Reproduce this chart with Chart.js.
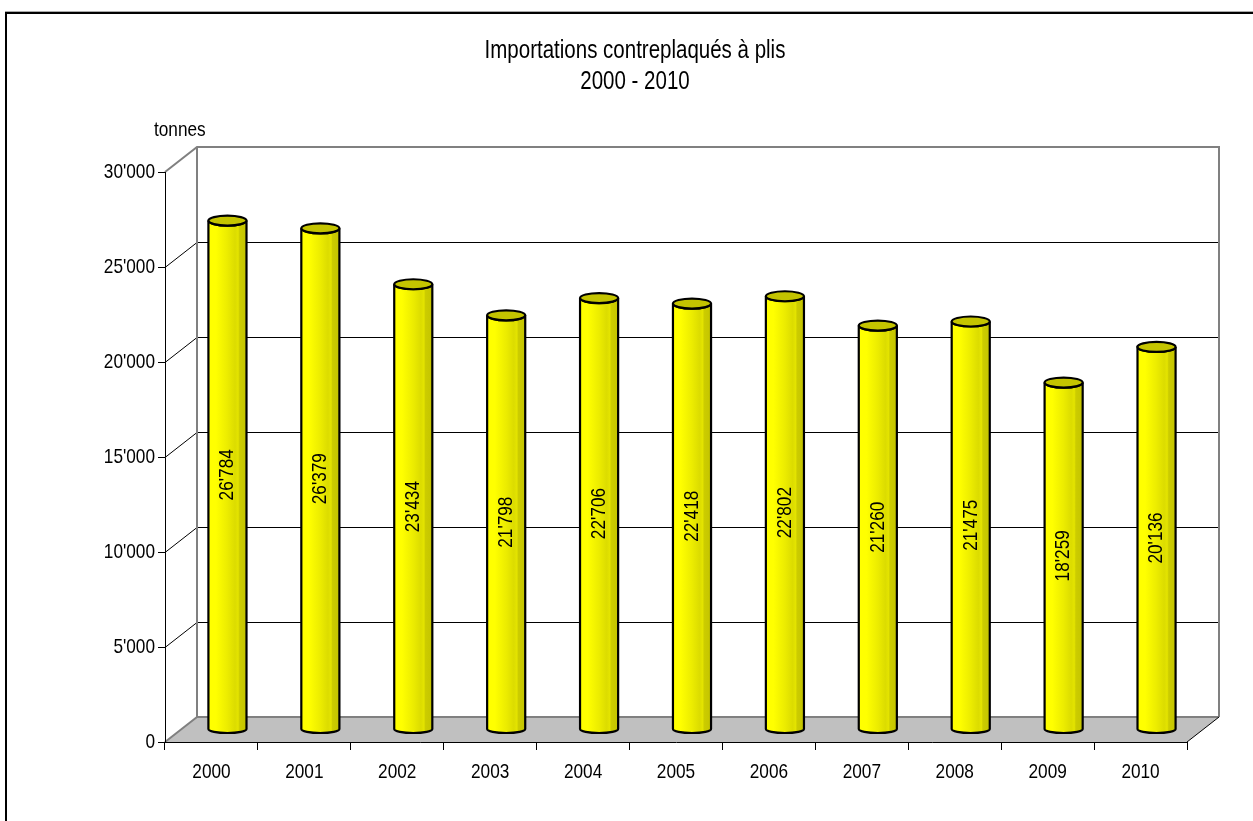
<!DOCTYPE html>
<html>
<head>
<meta charset="utf-8">
<script src="https://cdn.jsdelivr.net/npm/chart.js@4.4.1/dist/chart.umd.min.js"></script>
<style>
  html, body { margin: 0; padding: 0; background: #fff; }
  canvas { display: block; }
</style>
</head>
<body>
<canvas id="importChart" width="1253" height="821"></canvas>
<script>
// données
const years = ["2000", "2001", "2002", "2003", "2004", "2005", "2006", "2007", "2008", "2009", "2010"];
const tonnes = [26784, 26379, 23434, 21798, 22706, 22418, 22802, 21260, 21475, 18259, 20136];
const yTicks = [0, 5000, 10000, 15000, 20000, 25000, 30000];
const titleLines = ["Importations contreplaqués à plis", "2000 - 2010"];
const unitLabel = "tonnes";

const FONT = "'Liberation Sans', Arial, sans-serif";
const NARROW = 0.82;  // pas d'Arial Narrow installé -> on comprime
const DEPTH_X = 32;   // profondeur du graphique 3D
const DEPTH_Y = 25;

function fmt(v) {
  return String(v).replace(/\B(?=(\d{3})+(?!\d))/g, "'");
}

function narrowText(ctx, text, x, y, size, align, angle) {
  ctx.save();
  ctx.translate(x, y);
  if (angle) ctx.rotate(angle);
  ctx.scale(NARROW, 1);
  ctx.font = size + "px " + FONT;
  ctx.fillStyle = "#000";
  ctx.textAlign = align;
  ctx.textBaseline = "middle";
  ctx.fillText(text, 0, 0);
  ctx.restore();
}

// murs, sol et quadrillage arrière
const wallsPlugin = {
  id: "walls",
  beforeDraw(chart) {
    const ctx = chart.ctx;
    const a = chart.chartArea;
    const y = chart.scales.y;
    ctx.save();
    ctx.fillStyle = "#fff";
    ctx.fillRect(0, 0, chart.width, chart.height);

    const base = y.getPixelForValue(0);
    const top = y.getPixelForValue(30000);

    // sol gris
    ctx.beginPath();
    ctx.moveTo(a.left, base);
    ctx.lineTo(a.right, base);
    ctx.lineTo(a.right + DEPTH_X, base - DEPTH_Y);
    ctx.lineTo(a.left + DEPTH_X, base - DEPTH_Y);
    ctx.closePath();
    ctx.fillStyle = "#c0c0c0";
    ctx.fill();

    // quadrillage: mur arrière + mur gauche
    ctx.strokeStyle = "#000";
    ctx.lineWidth = 1;
    yTicks.forEach((v) => {
      if (v === 0 || v === 30000) return;
      const py = Math.round(y.getPixelForValue(v)) + 0.5;
      ctx.beginPath();
      ctx.moveTo(a.left, py);
      ctx.lineTo(a.left + DEPTH_X, py - DEPTH_Y);
      ctx.lineTo(a.right + DEPTH_X, py - DEPTH_Y);
      ctx.stroke();
    });

    // contours gris des murs
    ctx.strokeStyle = "#808080";
    ctx.lineWidth = 2;
    ctx.beginPath();
    ctx.moveTo(a.left, top);
    ctx.lineTo(a.left + DEPTH_X, top - DEPTH_Y);
    ctx.lineTo(a.right + DEPTH_X, top - DEPTH_Y);
    ctx.lineTo(a.right + DEPTH_X, base - DEPTH_Y);
    ctx.moveTo(a.left + DEPTH_X, top - DEPTH_Y);
    ctx.lineTo(a.left + DEPTH_X, base - DEPTH_Y);
    ctx.lineTo(a.right + DEPTH_X, base - DEPTH_Y);
    ctx.moveTo(a.left + DEPTH_X, base - DEPTH_Y);
    ctx.lineTo(a.left, base);
    ctx.stroke();

    ctx.strokeStyle = "#000";
    ctx.lineWidth = 1;
    ctx.beginPath();
    ctx.moveTo(a.right, base);
    ctx.lineTo(a.right + DEPTH_X, base - DEPTH_Y);
    ctx.stroke();
    ctx.restore();

    // titres
    narrowText(ctx, titleLines[0], 635, 51, 25, "center");
    narrowText(ctx, titleLines[1], 635, 82, 25, "center");
    narrowText(ctx, unitLabel, 154, 130, 21, "left");
  },
  afterDraw(chart) {
    const ctx = chart.ctx;
    const x = chart.scales.x;
    const y = chart.scales.y;
    // étiquettes des axes
    y.ticks.forEach((t) => {
      narrowText(ctx, fmt(t.value), 155, y.getPixelForValue(t.value), 21, "right");
    });
    x.ticks.forEach((t, i) => {
      narrowText(ctx, years[i], x.getPixelForTick(i), 772, 21, "center");
    });
    // cadre extérieur (haut et gauche)
    ctx.save();
    ctx.fillStyle = "#aaa";
    ctx.fillRect(5, 11, chart.width, 1);
    ctx.fillStyle = "#000";
    ctx.fillRect(5, 12, chart.width, 2);
    ctx.fillRect(5, 12, 2, chart.height);
    ctx.restore();
  }
};

// cylindres jaunes et étiquettes
const cylinderPlugin = {
  id: "cylinders",
  afterDatasetsDraw(chart) {
    const ctx = chart.ctx;
    const meta = chart.getDatasetMeta(0);
    meta.data.forEach((bar, i) => {
      const cx = bar.x + DEPTH_X / 2;
      const rx = bar.width / 2;
      const ty = bar.y - DEPTH_Y / 2;
      const by = bar.base - DEPTH_Y / 2;
      const ryTop = 5;
      const ryBot = 4;

      ctx.save();
      const grad = ctx.createLinearGradient(cx - rx, 0, cx + rx, 0);
      grad.addColorStop(0, "#ffff00");
      grad.addColorStop(0.2, "#ffff00");
      grad.addColorStop(0.5, "#ecec00");
      grad.addColorStop(0.7, "#dcdc00");
      grad.addColorStop(0.78, "#e4e400");
      grad.addColorStop(0.82, "#cccc00");
      grad.addColorStop(1, "#c4c400");

      ctx.beginPath();
      ctx.moveTo(cx - rx, ty);
      ctx.lineTo(cx - rx, by);
      ctx.ellipse(cx, by, rx, ryBot, 0, Math.PI, 0, true);
      ctx.lineTo(cx + rx, ty);
      ctx.ellipse(cx, ty, rx, ryTop, 0, 0, Math.PI, false);
      ctx.closePath();
      ctx.fillStyle = grad;
      ctx.fill();
      ctx.lineWidth = 2.2;
      ctx.strokeStyle = "#000";
      ctx.stroke();

      ctx.beginPath();
      ctx.ellipse(cx, ty, rx, ryTop, 0, 0, Math.PI * 2);
      ctx.fillStyle = "#c4c400";
      ctx.fill();
      ctx.stroke();
      ctx.restore();

      // valeur verticale
      narrowText(ctx, fmt(tonnes[i]), cx, (ty + by) / 2, 21, "center", -Math.PI / 2);
    });
  }
};

new Chart(document.getElementById("importChart"), {
  type: "bar",
  data: {
    labels: years,
    datasets: [{
      label: "Importations",
      data: tonnes,
      backgroundColor: "rgba(0,0,0,0)",
      borderWidth: 0,
      categoryPercentage: 1,
      barPercentage: 0.41
    }]
  },
  options: {
    responsive: false,
    animation: false,
    layout: { padding: { top: 172, right: 66, left: 0, bottom: 0 } },
    plugins: {
      legend: { display: false },
      tooltip: { enabled: false }
    },
    scales: {
      x: {
        afterFit: (scale) => { scale.height = 79; },
        grid: { drawOnChartArea: false, color: "#000", tickLength: 8, offset: true },
        border: { color: "#000", width: 1 },
        ticks: { color: "rgba(0,0,0,0)", font: { size: 21 }, padding: 12 }
      },
      y: {
        min: 0,
        max: 30000,
        afterFit: (scale) => { scale.width = 165; },
        afterBuildTicks: (scale) => { scale.ticks = yTicks.map((v) => ({ value: v })); },
        grid: { drawOnChartArea: false, color: "#000", tickLength: 7 },
        border: { color: "#000", width: 1 },
        ticks: { color: "rgba(0,0,0,0)", font: { size: 21 }, padding: 3 }
      }
    }
  },
  plugins: [wallsPlugin, cylinderPlugin]
});
</script>
</body>
</html>
